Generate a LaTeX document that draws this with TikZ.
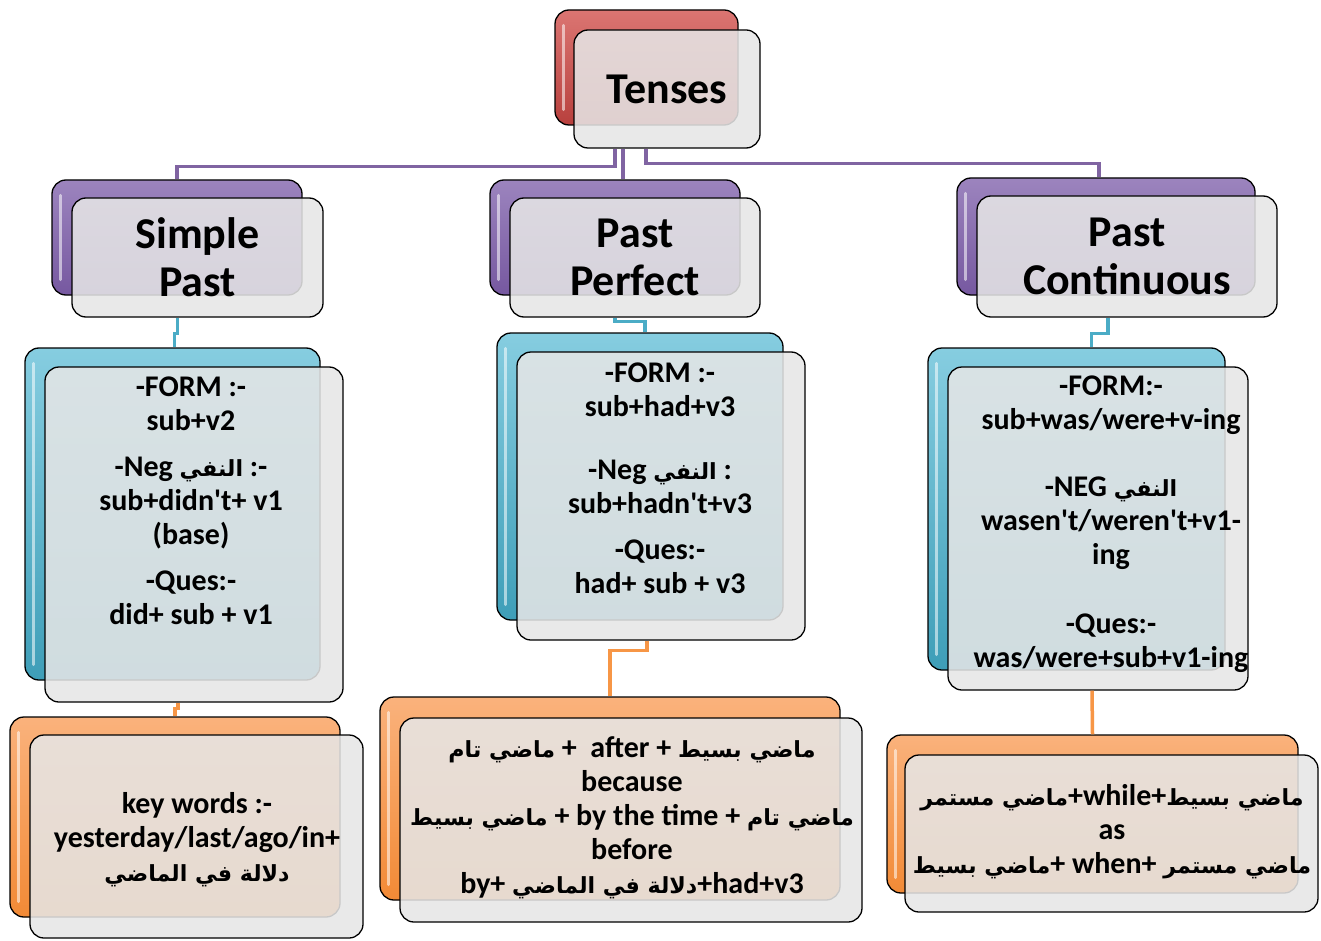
\documentclass[tikz,border=0pt]{standalone}
\usepackage{fontspec}
\setmainfont{Carlito}
\newfontfamily\arabicfont[Script=Arabic,Scale=0.74]{DejaVu Sans}
\TeXXeTstate=1
\newcommand{\artxt}[1]{{\arabicfont\beginR #1\endR}}
\newcommand{\q}{\textquotesingle}

\definecolor{redtop}{HTML}{DB7572}
\definecolor{redbot}{HTML}{B8403D}
\definecolor{purtop}{HTML}{9C84BE}
\definecolor{purbot}{HTML}{7658A0}
\definecolor{blutop}{HTML}{86CDE0}
\definecolor{blubot}{HTML}{3E9EB8}
\definecolor{orgtop}{HTML}{FAB27C}
\definecolor{orgbot}{HTML}{F28A36}
\definecolor{frontgray}{HTML}{E6E6E6}
\definecolor{linkpurple}{HTML}{8064A2}
\definecolor{linkblue}{HTML}{4BACC6}
\definecolor{linkorange}{HTML}{F79646}

\begin{document}
\begin{tikzpicture}[x=1pt, y=-1pt,
	back/.style={draw=black, line width=1.3pt, rounded corners=14pt, inner sep=0pt},
	front/.style={draw=black, line width=1.3pt, rounded corners=14pt, fill=frontgray, fill opacity=0.87, text opacity=1, inner sep=0pt, align=center},
	shine/.style={white, line width=3pt, opacity=0.55, line cap=round},
	headtxt/.style={font=\fontsize{44}{48}\selectfont\bfseries},
	bodytxt/.style={font=\fontsize{30}{34}\selectfont\bfseries, align=center},
	plink/.style={draw=linkpurple, line width=3.5pt},
	blink/.style={draw=linkblue, line width=3.5pt},
	olink/.style={draw=linkorange, line width=3.5pt}]
	\useasboundingbox[fill=white] (0,0) rectangle (1321,941);
	% back boxes
	\node[back, top color=redtop, bottom color=redbot, minimum width=183pt, minimum height=115pt] (tensesback) at (646.5,67.5) {};
	\node[back, top color=purtop, bottom color=purbot, minimum width=250pt, minimum height=115pt] (spback) at (177,237.5) {};
	\node[back, top color=purtop, bottom color=purbot, minimum width=250pt, minimum height=115pt] (ppback) at (615,237.5) {};
	\node[back, top color=purtop, bottom color=purbot, minimum width=298pt, minimum height=117pt] (pcback) at (1106,236.5) {};
	\node[back, top color=blutop, bottom color=blubot, minimum width=295pt, minimum height=332pt] (spbb) at (172.5,514) {};
	\node[back, top color=blutop, bottom color=blubot, minimum width=286pt, minimum height=287pt] (ppbb) at (640,476.5) {};
	\node[back, top color=blutop, bottom color=blubot, minimum width=297pt, minimum height=322pt] (pcbb) at (1076.5,509) {};
	\node[back, top color=orgtop, bottom color=orgbot, minimum width=330pt, minimum height=200pt] (spob) at (175,817) {};
	\node[back, top color=orgtop, bottom color=orgbot, minimum width=460pt, minimum height=203pt] (ppob) at (610,798.5) {};
	\node[back, top color=orgtop, bottom color=orgbot, minimum width=411pt, minimum height=158pt] (pcob) at (1092.5,814) {};
	\foreach \n in {tensesback,spback,ppback,pcback,spbb,ppbb,pcbb,spob,ppob,pcob}
		\draw[shine] ([shift={(9pt,-16pt)}]\n.north west) -- ([shift={(9pt,16pt)}]\n.south west);

	% front boxes
	\node[front, headtxt, minimum width=186pt, minimum height=118pt] (tenses) at (667,89) {Tenses};
	\node[front, headtxt, minimum width=251pt, minimum height=119pt] (sp) at (197.5,257.5) {Simple\\Past};
	\node[front, headtxt, minimum width=250pt, minimum height=119pt] (pp) at (635,257.5) {Past\\Perfect};
	\node[front, headtxt, minimum width=300pt, minimum height=121pt] (pc) at (1127,256.5) {Past\\Continuous};
	\node[front, minimum width=298pt, minimum height=335pt] (spbf) at (194,534.5) {};
	\node[front, minimum width=288pt, minimum height=288pt] (ppbf) at (661,496) {};
	\node[front, minimum width=300pt, minimum height=323pt] (pcbf) at (1098,528.5) {};
	\node[front, minimum width=333pt, minimum height=203pt] (spof) at (196.5,836.5) {};
	\node[front, minimum width=462pt, minimum height=204pt] (ppof) at (631,820) {};
	\node[front, minimum width=413pt, minimum height=157pt] (pcof) at (1111.5,833.5) {};

	% texts
	\node[bodytxt] (spform) at (191,501) {-FORM :-\\sub+v2\\[12pt]-Neg \artxt{النفي} :-\\sub+didn\q t+ v1\\(base)\\[12pt]-Ques:-\\did+ sub + v1};
	\node[bodytxt] (ppform) at (660,478) {-FORM :-\\sub+had+v3\\[29pt]-Neg \artxt{النفي} :\\sub+hadn\q t+v3\\[12pt]-Ques:-\\had+ sub + v3};
	\node[bodytxt] (pcform) at (1111,524) {-FORM:-\\sub+was/were+v-ing\\[33pt]-NEG \artxt{النفي}\\wasen\q t/weren\q t+v1-\\ing\\[35pt]-Ques:-\\was/were+sub+v1-ing};
	\node[bodytxt] (spkey) at (197,840) {key words :-\\yesterday/last/ago/in+\\\artxt{دلالة في الماضي}};
	\node[bodytxt] (ppkey) at (632,818) {\artxt{ماضي تام} +\ \ after + \artxt{ماضي بسيط}\\because\\\artxt{ماضي بسيط} + by the time + \artxt{ماضي تام}\\before\\by+ \artxt{دلالة في الماضي}+had+v3};
	\node[bodytxt] (pckey) at (1112,832) {\artxt{ماضي مستمر}+while+\artxt{ماضي بسيط}\\as\\\artxt{ماضي بسيط}+ when+ \artxt{ماضي مستمر}};

	% connectors
	\draw[plink] ([xshift=-52pt]tenses.south) -- ++(0,18) -| (spback.north);
	\draw[plink] ([xshift=-44pt]tenses.south) -- ([xshift=-44pt]tenses.south |- ppback.north);
	\draw[plink] ([xshift=-21pt]tenses.south) -- ++(0,15) -| ([xshift=-7pt]pcback.north);
	\draw[blink] ([xshift=-20pt]sp.south) -- ++(0,16) -| ([xshift=2pt]spbb.north);
	\draw[blink] ([xshift=-20pt]pp.south) -- ++(0,4) -| ([xshift=5pt]ppbb.north);
	\draw[blink] ([xshift=-19pt]pc.south) -- ++(0,16) -| ([xshift=15pt]pcbb.north);
	\draw[olink] ([xshift=-16pt]spbf.south) -- ++(0,6) -| (spob.north);
	\draw[olink] ([xshift=-14pt]ppbf.south) -- ++(0,10) -| (ppob.north);
	\draw[olink] ([xshift=-6pt]pcbf.south) -- (pcob.north);
\end{tikzpicture}
\end{document}
